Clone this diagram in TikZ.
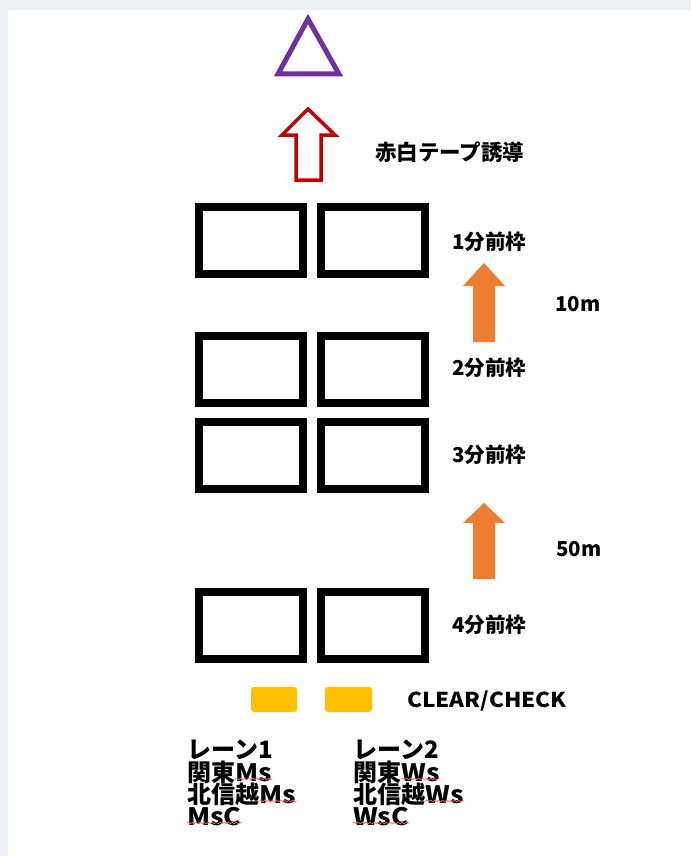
\documentclass[tikz,border=0pt]{standalone}
\usepackage{fontspec}
\setmainfont{Noto Sans CJK JP}
\newfontfamily\widelat[FakeStretch=1.1]{Noto Sans CJK JP}
\usetikzlibrary{decorations.pathmorphing}
\definecolor{bggray}{HTML}{EEF1F4}
\definecolor{tripurple}{HTML}{7030A0}
\definecolor{arrred}{HTML}{C00000}
\definecolor{arrorange}{HTML}{ED7D31}
\definecolor{chkyellow}{HTML}{FFC000}
\begin{document}
\begin{tikzpicture}[x=1pt,y=-1pt,
  slot/.style={draw=black,line width=8pt,minimum width=104pt,minimum height=67pt,inner sep=0pt},
  lbl/.style={anchor=west,inner sep=0pt,font=\fontsize{20.5}{20.5}\selectfont\bfseries},
  lane/.style={anchor=base west,inner sep=0pt,text height=17pt,text depth=3pt,font=\fontsize{24}{24}\selectfont\bfseries},
  lat/.style={anchor=base west,inner sep=0pt,text height=17pt,text depth=3pt,font=\widelat\fontsize{24}{24}\selectfont\bfseries},
  wavy/.style={draw=red!60,line width=0.7pt,decorate,decoration={snake,amplitude=0.9pt,segment length=4pt}},
  orangearrow/.style={fill=arrorange},
  chk/.style={fill=chkyellow,rounded corners=3pt}]
\useasboundingbox (0,0) rectangle (691,856);
\fill[bggray] (0,0) rectangle (691,856);
\fill[white] (8,10) rectangle (691,856);
% triangle
\draw[tripurple,line width=5pt,line join=miter] (308,19) -- (278,74) -- (339,74) -- cycle;
% red outline arrow
\draw[arrred,line width=3.5pt,fill=white,line join=miter]
  (296,180) -- (296,135) -- (282,135) -- (308,109) -- (335,135) -- (321,135) -- (321,180) -- cycle;
\node[lbl,font=\fontsize{21.5}{21.5}\selectfont\bfseries] (tape) at (375,152) {赤白テープ誘導};
% slots
\node[slot] (s1a) at (251,240.5) {};
\node[slot] (s1b) at (373,240.5) {};
\node[slot] (s2a) at (251,369.5) {};
\node[slot] (s2b) at (373,369.5) {};
\node[slot] (s3a) at (251,455.5) {};
\node[slot] (s3b) at (373,455.5) {};
\node[slot] (s4a) at (251,625) {};
\node[slot] (s4b) at (373,625) {};
% labels
\node[lbl] (l1) at (452,242) {1分前枠};
\node[lbl] (l2) at (452,368) {2分前枠};
\node[lbl] (l3) at (452,455) {3分前枠};
\node[lbl] (l4) at (452,625) {4分前枠};
\node[lbl] (d10) at (555,304) {10m};
\node[lbl] (d50) at (556,549) {50m};
% orange arrows
\fill[orangearrow] (473,342) -- (473,286) -- (463,286) -- (484,263) -- (505,286) -- (495,286) -- (495,342) -- cycle;
\fill[orangearrow] (473,579) -- (473,523) -- (463,523) -- (484,503) -- (505,523) -- (495,523) -- (495,579) -- cycle;
% clear/check
\fill[chk] (251,687) rectangle (297,712);
\fill[chk] (325,687) rectangle (372,712);
\node[lbl,font=\widelat\fontsize{20.5}{20.5}\selectfont\bfseries] (cc) at (407,701) {CLEAR/CHECK};
% lane 1
\node[lane] (a1) at (187,758) {レーン1};
\node[lane] (a2) at (187,781) {関東};
\node[lat] (a2m) at (a2.base east) {Ms};
\node[lane] (a3) at (187,803) {北信越};
\node[lat] (a3m) at (a3.base east) {Ms};
\node[lat] (a4) at (187,825) {MsC};
% lane 2
\node[lane] (b1) at (353,758) {レーン2};
\node[lane] (b2) at (353,781) {関東};
\node[lat] (b2m) at (b2.base east) {Ws};
\node[lane] (b3) at (353,803) {北信越};
\node[lat] (b3m) at (b3.base east) {Ws};
\node[lat] (b4) at (353,825) {WsC};
% spell-check underlines
\draw[wavy] ([yshift=2pt]a2m.base west) -- ([yshift=2pt]a2m.base east);
\draw[wavy] ([yshift=2pt]a3m.base west) -- ([yshift=2pt]a3m.base east);
\draw[wavy] ([yshift=2pt]a4.base west) -- ([yshift=2pt]a4.base east);
\draw[wavy] ([yshift=2pt]b2m.base west) -- ([yshift=2pt]b2m.base east);
\draw[wavy] ([yshift=2pt]b3m.base west) -- ([yshift=2pt]b3m.base east);
\draw[wavy] ([yshift=2pt]b4.base west) -- ([yshift=2pt]b4.base east);
\end{tikzpicture}
\end{document}
